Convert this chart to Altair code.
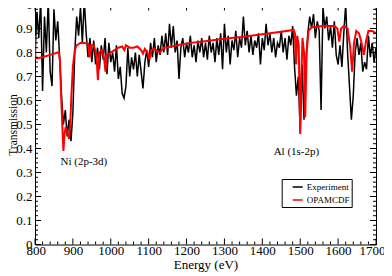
import altair as alt
import pandas as pd

# ---------------- data ----------------
exp_energy = list(range(800, 1701, 5))
exp_value = [
    0.78, 0.97, 0.86, 1.02, 0.64, 0.95, 0.80, 1.02, 0.72, 0.66,   # 800-845
    0.98, 0.85, 0.93, 0.78, 0.62, 0.50, 0.56, 0.45, 0.52, 0.43,   # 850-895
    0.55, 0.80, 0.95, 0.87, 0.99, 0.84, 1.02, 0.88, 0.78, 0.86,   # 900-945
    0.76, 0.85, 0.75, 0.82, 0.73, 0.83, 0.77, 0.86, 0.71, 0.84,   # 950-995
    0.76, 0.80, 0.72, 0.83, 0.69, 0.74, 0.63, 0.61, 0.66, 0.82,   # 1000-1045
    0.70, 0.78, 0.73, 0.80, 0.70, 0.79, 0.72, 0.65, 0.76, 0.81,   # 1050-1095
    0.74, 0.84, 0.78, 0.86, 0.76, 0.83, 0.79, 0.87, 0.80, 0.88,   # 1100-1145
    0.79, 0.92, 0.82, 0.91, 0.80, 0.85, 0.69, 0.82, 0.86, 0.78,   # 1150-1195
    0.84, 0.80, 0.87, 0.78, 0.83, 0.76, 0.85, 0.80, 0.86, 0.78,   # 1200-1245
    0.84, 0.77, 0.87, 0.80, 0.84, 0.76, 0.86, 0.79, 0.88, 0.73,   # 1250-1295
    0.92, 0.80, 0.87, 0.75, 0.85, 0.81, 0.89, 0.78, 0.86, 0.82,   # 1300-1345
    0.95, 0.83, 0.89, 0.80, 0.87, 0.79, 0.85, 0.82, 0.88, 0.75,   # 1350-1395
    0.86, 0.81, 0.92, 0.83, 0.88, 0.80, 0.86, 0.78, 0.84, 0.82,   # 1400-1445
    0.89, 0.80, 0.86, 0.77, 0.87, 0.83, 0.91, 0.74, 0.62, 0.70,   # 1450-1495
    0.47, 0.75, 0.52, 0.76, 0.88, 0.95, 0.90, 0.96, 0.86, 0.93,   # 1500-1545
    0.89, 0.56, 0.99, 0.90, 0.95, 0.85, 0.91, 0.82, 0.93, 0.79,   # 1550-1595
    0.75, 0.83, 0.74, 0.88, 1.00, 0.80, 0.66, 0.52, 0.62, 0.80,   # 1600-1645
    0.86, 0.79, 0.84, 0.72, 0.76, 0.73, 0.87, 0.78, 0.84, 0.76,   # 1650-1695
    0.82,                                                         # 1700
]

calc_energy = [
    800, 801, 820, 840, 860, 863, 866, 869, 872, 875, 878, 881, 884, 887,
    890, 893, 896, 900, 905, 910, 920, 930, 940, 944, 948, 955, 962, 966,
    970, 976, 982, 986, 990, 1000, 1010, 1020, 1030, 1036, 1040, 1050,
    1060, 1070, 1080, 1085, 1090, 1097, 1102, 1107, 1115, 1125, 1130,
    1140, 1150, 1170, 1200, 1254, 1300, 1350, 1400, 1450, 1483, 1486,
    1489, 1492, 1496, 1500, 1503, 1506, 1510, 1513, 1517, 1522, 1530,
    1560, 1590, 1598, 1603, 1608, 1615, 1625, 1632, 1637, 1642, 1648,
    1655, 1662, 1668, 1674, 1680, 1690, 1700,
]
calc_value = [
    0.87, 0.775, 0.78, 0.79, 0.80, 0.80, 0.76, 0.62, 0.50, 0.39, 0.46, 0.49, 0.47, 0.46,
    0.44, 0.50, 0.62, 0.74, 0.81, 0.83, 0.84, 0.84, 0.835, 0.78, 0.83, 0.83, 0.79, 0.685,
    0.80, 0.81, 0.78, 0.72, 0.79, 0.80, 0.81, 0.82, 0.825, 0.81, 0.83, 0.82,
    0.82, 0.825, 0.81, 0.795, 0.815, 0.80, 0.77, 0.81, 0.815, 0.805, 0.80,
    0.82, 0.822, 0.828, 0.838, 0.848, 0.857, 0.866, 0.876, 0.886, 0.894, 0.88,
    0.75, 0.87, 0.83, 0.46, 0.70, 0.86, 0.80, 0.53, 0.80, 0.89, 0.905,
    0.91, 0.91, 0.90, 0.845, 0.90, 0.91, 0.90, 0.82, 0.72, 0.84, 0.89,
    0.88, 0.84, 0.79, 0.85, 0.89, 0.89, 0.88,
]

series_names = ["Experiment", "OPAMCDF"]
series_colors = ["#000000", "#ff0000"]

label_text = ["Ni (2p-3d)", "Al (1s-2p)"]
label_energy = [929, 1490]
label_value = [0.344, 0.387]

x_major = list(range(800, 1701, 100))
x_minor = [v for v in range(800, 1701, 20) if v % 100]
y_major = [round(i * 0.1, 2) for i in range(11)]
y_minor = [round(i * 0.02, 2) for i in range(51) if i % 5]

# ---------------- chart ----------------
W, H = 341, 240
FONT = "Liberation Serif"

exp_df = pd.DataFrame({"energy": exp_energy, "value": exp_value, "series": series_names[0]})
calc_df = pd.DataFrame({"energy": calc_energy, "value": calc_value, "series": series_names[1]})
lab_df = pd.DataFrame({"energy": label_energy, "value": label_value, "text": label_text})

xs = alt.Scale(domain=[800, 1700], nice=False, zero=False)
ys = alt.Scale(domain=[0, 1], nice=False, zero=False)

x_axis = alt.Axis(values=x_major, format="d", labelPadding=0,
                  labelFlush=True, labelFlushOffset=9, titlePadding=1, titleFontSize=13)
y_axis = alt.Axis(values=y_major, format="~g", labelPadding=3, labelFlush=False,
                  titleFontSize=11.5, titleX=-18.5, titleY=H / 2,
                  titleBaseline="alphabetic", titleAngle=270)


def X():
    return alt.X("energy:Q", scale=xs, axis=x_axis, title="Energy (eV)")


def Y():
    return alt.Y("value:Q", scale=ys, axis=y_axis, title="Transmission")


color = alt.Color("series:N", scale=alt.Scale(domain=series_names, range=series_colors),
                  legend=alt.Legend(title=None, orient="none", legendX=246.7, legendY=174.5,
                                    padding=2, symbolType="stroke", symbolSize=100,
                                    symbolStrokeWidth=1.5, symbolOffset=8, labelOffset=3,
                                    rowPadding=2))

exp_line = alt.Chart(exp_df).mark_line(clip=True, strokeWidth=1.5).encode(
    x=X(), y=Y(), color=color)
calc_line = alt.Chart(calc_df).mark_line(clip=True, strokeWidth=2).encode(
    x=X(), y=Y(), color=color)

labels = alt.Chart(lab_df).mark_text(font=FONT, fontSize=11, color="black").encode(
    x=X(), y=Y(), text="text:N")


def xticks(vals, length):
    d = pd.DataFrame({"energy": vals})
    bottom = alt.Chart(d).mark_rule(color="black", strokeWidth=1).encode(
        x=X(), y=alt.value(H), y2=alt.value(H - length))
    top = alt.Chart(d).mark_rule(color="black", strokeWidth=1).encode(
        x=X(), y=alt.value(0), y2=alt.value(length))
    return [bottom, top]


def yticks(vals, length):
    d = pd.DataFrame({"value": vals})
    left = alt.Chart(d).mark_rule(color="black", strokeWidth=1).encode(
        y=Y(), x=alt.value(0), x2=alt.value(length))
    right = alt.Chart(d).mark_rule(color="black", strokeWidth=1).encode(
        y=Y(), x=alt.value(W), x2=alt.value(W - length))
    return [left, right]


tick_layers = xticks(x_major, 6) + xticks(x_minor, 3) + yticks(y_major, 6) + yticks(y_minor, 3)

chart = alt.layer(exp_line, calc_line, labels, *tick_layers).properties(
    width=W, height=H,
    autosize=alt.AutoSizeParams(type="none"),
    padding={"left": 27, "top": -3.5, "right": 8, "bottom": 31.5},
    background="white",
).configure_view(
    stroke="black", strokeWidth=1
).configure_axis(
    labelFont=FONT, labelFontSize=13, labelColor="black",
    titleFont=FONT, titleFontWeight="normal", titleColor="black",
    ticks=False, domain=False, grid=False, labelOverlap=False,
).configure_legend(
    labelFont=FONT, labelFontSize=9, labelColor="black",
    strokeColor="black", fillColor="white",
)

chart.save("out.html", embed_options={"renderer": "svg", "actions": False})
